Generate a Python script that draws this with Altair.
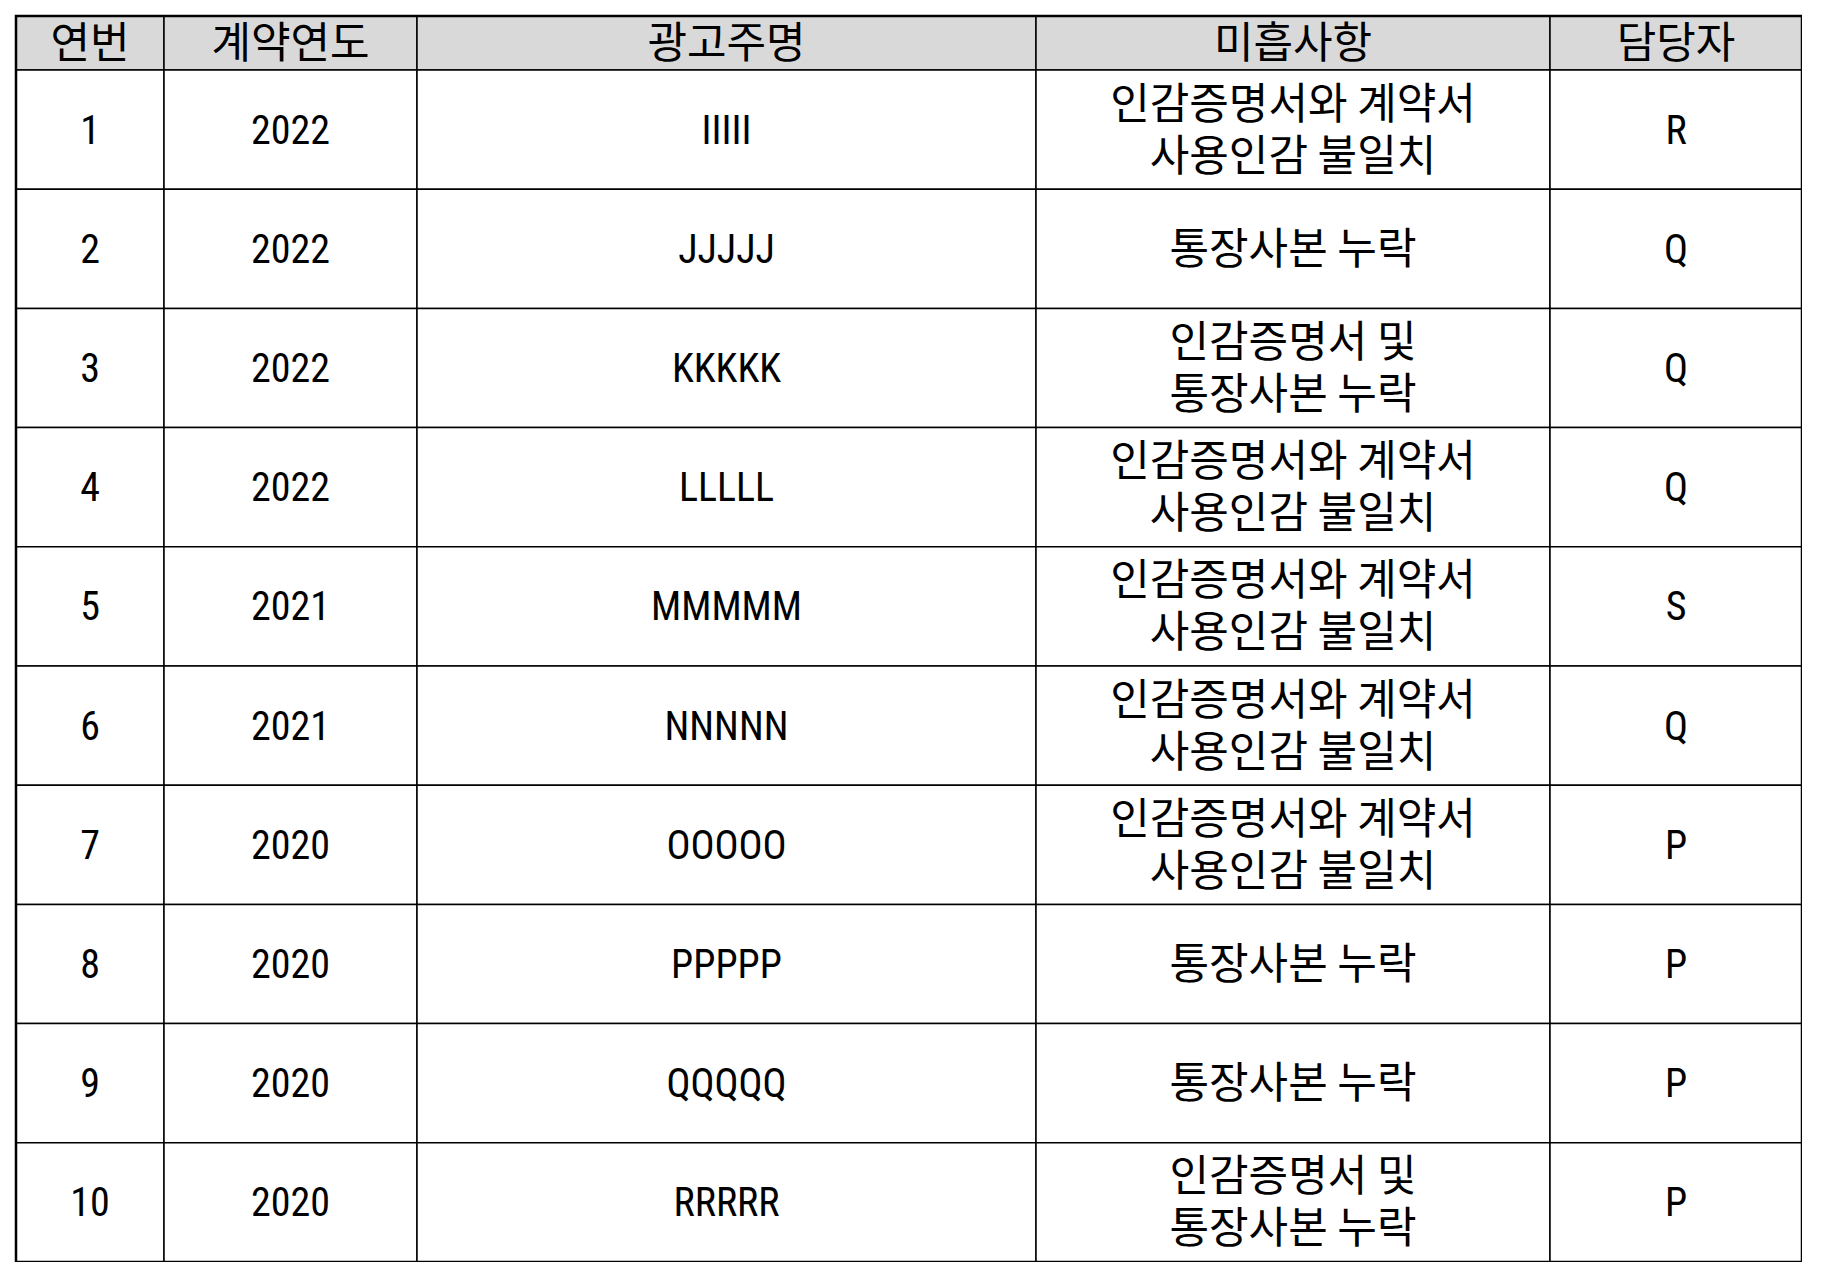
import altair as alt
import pandas as pd

headers = ["연번", "계약연도", "광고주명", "미흡사항", "담당자"]
nums = [str(i) for i in range(1, 11)]
years = ["2022", "2022", "2022", "2022", "2021", "2021", "2020", "2020", "2020", "2020"]
names = ["IIIII", "JJJJJ", "KKKKK", "LLLLL", "MMMMM", "NNNNN", "OOOOO", "PPPPP", "QQQQQ", "RRRRR"]
A = "인감증명서와  계약서\n사용인감  불일치"
B = "통장사본  누락"
C = "인감증명서  및\n통장사본  누락"
issues = [A, B, C, A, A, A, A, B, B, C]
owners = ["R", "Q", "Q", "Q", "S", "Q", "P", "P", "P", "P"]

# layout (pixels)
col_edges = [0, 148, 401, 1020, 1534, 1786]
head_h = 54
row_h = 119.2
W, H = 1786, head_h + 10 * row_h
LH = 52

cells = []
for c in range(5):
    cells.append(dict(x=col_edges[c], x2=col_edges[c + 1], y=0, y2=head_h,
                      t=headers[c], head=True, kor=True))
cols = [nums, years, names, issues, owners]
for r in range(10):
    for c in range(5):
        cells.append(dict(x=col_edges[c], x2=col_edges[c + 1],
                          y=head_h + r * row_h, y2=head_h + (r + 1) * row_h,
                          t=cols[c][r], head=False, kor=(c == 3)))
df = pd.DataFrame(cells)
df["cx"] = (df.x + df.x2) / 2
df["n"] = df.t.str.count("\n") + 1
df["cy"] = (df.y + df.y2) / 2 - (df.n - 1) * LH / 2 + 2
df["lines"] = df.t.str.split("\n")

xs = alt.Scale(domain=[0, W], nice=False, zero=False)
ys = alt.Scale(domain=[H, 0], nice=False, zero=False)

base = alt.Chart(df)
rects = base.mark_rect(stroke="black", strokeWidth=1.5).encode(
    x=alt.X("x:Q", scale=xs, axis=None), x2="x2:Q",
    y=alt.Y("y:Q", scale=ys, axis=None), y2="y2:Q",
    fill=alt.condition("datum.head", alt.value("#d9d9d9"), alt.value("white")),
)
txt_lat = base.transform_filter("!datum.kor").mark_text(
    font="Roboto Condensed, Liberation Sans Narrow, Roboto", fontSize=40, lineHeight=LH,
    baseline="middle", align="center", color="black").encode(
    x=alt.X("cx:Q", scale=xs), y=alt.Y("cy:Q", scale=ys), text="lines"
)
txt_kor = base.transform_filter("datum.kor").mark_text(
    font="Noto Sans CJK KR", fontSize=43, lineHeight=LH,
    baseline="middle", align="center", color="black").encode(
    x=alt.X("cx:Q", scale=xs), y=alt.Y("cy:Q", scale=ys), text="lines"
)
border = alt.Chart(pd.DataFrame([{"x": 0, "x2": W, "y": 0, "y2": H}])).mark_rect(
    fill=None, stroke="black", strokeWidth=2.5).encode(
    x=alt.X("x:Q", scale=xs), x2="x2:Q", y=alt.Y("y:Q", scale=ys), y2="y2:Q")

chart = (rects + txt_lat + txt_kor + border).properties(
    width=W, height=H, padding={"left": 8, "top": 8, "right": 0, "bottom": 0},
    autosize=alt.AutoSizeParams(type="none"),
).configure_view(stroke=None).configure(background="white")

chart.save("out.html", embed_options={"renderer": "svg", "actions": False})
